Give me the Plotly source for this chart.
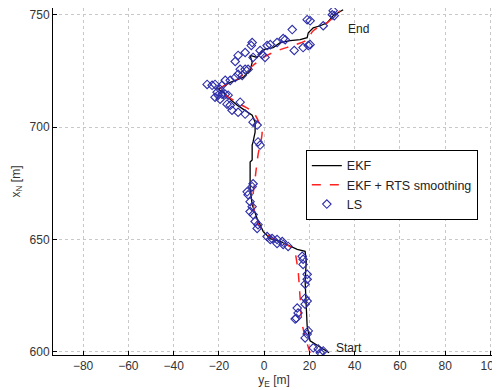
import plotly.graph_objects as go

# EKF estimate (y_E, x_N)
ekf_e = [28.7, 20.3, 19.0, 18.6, 18.1, 18.6, 18.1, 14.6, 11.5, 7.1, 2.7, -0.4, -3.1, -5.3, -6.2, -6.2, -5.3,
         -5.3, -4.9, -4.0, -4.0, -5.3, -9.3, -11.9, -15.0, -18.1, -20.3, -15.0, -9.3, -6.2, -5.3, -6.2,
         -3.1, -0.4, 4.0, 7.1, 11.5, 15.9, 19.0, 19.5, 21.7, 24.8, 27.9, 30.5, 34.9]
ekf_n = [599.6, 604.9, 611.5, 620.4, 631.4, 640.3, 644.7, 645.6, 646.9, 649.1, 650.4, 653.5, 659.3, 665.5,
         672.6, 684.5, 685.4, 692.0, 693.4, 697.8, 702.2, 705.3, 708.0, 709.7, 712.4, 715.5, 716.8, 719.9,
         722.1, 725.2, 728.8, 731.9, 731.0, 734.5, 735.4, 737.6, 738.5, 738.9, 739.8, 742.0, 744.2, 745.1,
         746.5, 749.6, 752.2]

# EKF + RTS smoothing
rts_e = [20.3, 16.8, 15.9, 14.6, 12.8, 7.1, 1.3, -3.1, -4.9, -4.0, -2.7, -0.9, -1.8, -4.9, -11.9, -19.5,
         -11.9, -4.9, -0.4, 7.1, 12.8, 19.0, 21.7, 27.9, 33.6]
rts_n = [599.5, 612.4, 623.9, 638.9, 645.6, 649.1, 652.2, 658.0, 668.1, 677.0, 687.6, 698.0, 700.9, 706.6,
         711.0, 716.8, 721.2, 727.4, 731.0, 734.5, 736.3, 738.9, 742.9, 746.5, 751.8]

# LS estimates
ls_e = [30.5, 30.1, 31.0, 19.0, 20.3, 26.1, 12.4, 8.4, 9.3, 5.7, 2.7, 1.3, 20.3, 19.5, -5.3, -5.7, 17.2,
        13.3, -1.8, -0.9, -8.4, -11.5, 0.4, -4.9, -12.8, -10.6, -8.4, -7.1, -11.5, -9.7, -12.8, -15.0,
        -17.2, -18.6, -19.5, -21.7, -23.0, -25.2, -20.8, -18.6, -20.3, -17.2, -15.9, -21.7, -19.5, -16.4,
        -15.0, -10.6, -14.2, -11.5, -8.4, -4.9, -3.1, -2.7, -1.8, -4.9, -5.3, -7.5, -7.1, -6.2, -5.3, -6.2,
        -4.9, -4.0, -2.7, -3.1, 1.3, 3.5, 5.7, 8.0, 2.7, 5.7, 8.4, 10.6, 16.8, 17.2, 17.2, 19.0, 19.0,
        18.1, 18.1, 19.0, 18.1, 14.6, 15.0, 14.2, 13.7, 19.5, 19.0, 18.1, 21.7, 23.9, 26.1, 24.8]
ls_n = [751.8, 750.0, 749.6, 747.8, 747.3, 745.1, 743.4, 739.4, 738.9, 737.6, 736.7, 736.3, 736.7, 736.3,
        737.6, 736.3, 735.4, 734.1, 734.1, 732.3, 733.2, 731.9, 731.0, 731.0, 729.2, 725.7, 725.7, 725.7,
        723.5, 723.0, 722.1, 720.8, 720.8, 718.6, 716.8, 719.0, 718.6, 719.0, 715.5, 714.6, 714.2, 714.6,
        714.2, 713.3, 712.4, 710.2, 709.7, 711.1, 707.5, 706.6, 705.8, 702.2, 700.9, 693.4, 692.0, 674.8,
        673.5, 671.2, 669.9, 666.8, 664.6, 662.4, 661.1, 658.0, 656.6, 654.9, 651.3, 650.4, 650.0, 649.1,
        650.0, 648.2, 647.8, 646.9, 642.5, 641.2, 638.9, 634.5, 632.3, 630.1, 623.9, 622.6, 621.2, 619.5,
        617.3, 615.0, 614.6, 609.3, 607.9, 606.2, 601.8, 601.3, 600.4, 599.6]

x_ticks = [-80, -60, -40, -20, 0, 20, 40, 60, 80, 100]
y_ticks = [600, 650, 700, 750]

labels = {"start": "Start", "end": "End"}
start_pos = (31.0, 601.8)
end_pos = (36.3, 743.8)

fig = go.Figure()
fig.add_trace(go.Scatter(x=ekf_e, y=ekf_n, mode="lines", name="EKF",
                         line=dict(color="black", width=1.3)))
fig.add_trace(go.Scatter(x=rts_e, y=rts_n, mode="lines", name="EKF + RTS smoothing",
                         line=dict(color="#ff2020", width=1.5, dash="dash"), line_shape="spline"))
fig.add_trace(go.Scatter(x=ls_e, y=ls_n, mode="markers", name="LS",
                         marker=dict(symbol="diamond-open", color="#2e2eaa", size=6.5,
                                     line=dict(width=1.1, color="#2e2eaa"))))

fig.add_annotation(x=start_pos[0], y=start_pos[1], text=labels["start"], showarrow=False,
                   xanchor="left", yanchor="middle", font=dict(size=12, color="#222"))
fig.add_annotation(x=end_pos[0], y=end_pos[1], text=labels["end"], showarrow=False,
                   xanchor="left", yanchor="middle", font=dict(size=12, color="#222"))

axis_common = dict(showline=True, linecolor="black", linewidth=1, ticks="inside", ticklen=4,
                   tickcolor="black", showgrid=True, gridcolor="#c8c8c8", griddash="dot",
                   gridwidth=1, zeroline=False, mirror=False, ticklabeloverflow="allow",
                   tickfont=dict(size=12, color="#333"))

fig.update_xaxes(range=[-93.3, 102.0], tickvals=x_ticks, **axis_common,
                 title=dict(text="y<sub>E</sub> [m]", font=dict(size=12, color="#333"), standoff=0))
fig.update_yaxes(range=[598.6, 753.0], tickvals=y_ticks, **axis_common,
                 title=dict(text="x<sub>N</sub> [m]", font=dict(size=12, color="#333"), standoff=6))

# The page body adds an 8 px offset, so the figure is sized to fit the 500x390 window.
fig.update_layout(
    width=492, height=382,
    margin=dict(l=45, r=5, t=0, b=35, autoexpand=False),
    plot_bgcolor="white", paper_bgcolor="white",
    font=dict(family="Liberation Sans, Arial, sans-serif", size=12, color="#222"),
    legend=dict(x=0.572, y=0.591, xanchor="left", yanchor="top",
                bordercolor="black", borderwidth=1, bgcolor="white",
                font=dict(size=12.5), tracegroupgap=0, itemwidth=30),
    showlegend=True,
)

fig.write_html("out.html")
